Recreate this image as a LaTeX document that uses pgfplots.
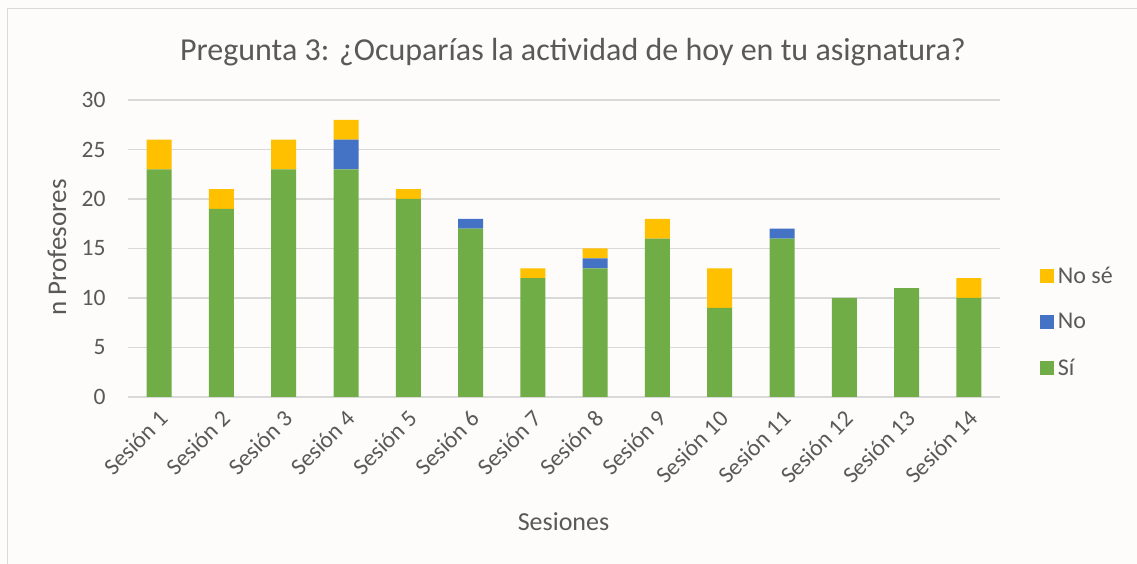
\documentclass[border=0pt]{standalone}
\usepackage{fontspec}
\setmainfont{Carlito}
\usepackage{pgfplots}
\pgfplotsset{compat=1.18}
\definecolor{cSi}{HTML}{70AD47}
\definecolor{cNo}{HTML}{4472C4}
\definecolor{cNS}{HTML}{FFC000}
\definecolor{txt}{HTML}{595959}
\definecolor{grd}{HTML}{D9D9D9}
\definecolor{bg}{HTML}{FDFCFB}
\begin{document}
\begin{tikzpicture}
\fill[bg] (0bp,0bp) rectangle (1137bp,564bp);
\path[use as bounding box] (0bp,0bp) rectangle (1137bp,564bp);
\draw[grd, line width=1.5bp] (7.5bp,0bp) -- (7.5bp,555.5bp) -- (1137bp,555.5bp);
\begin{axis}[
  at={(128bp,167bp)}, anchor=south west,
  scale only axis, width=872bp, height=297bp,
  ymin=0, ymax=30, xmin=-0.5, xmax=13.5,
  ybar stacked, bar width=25bp,
  ytick={0,5,...,30},
  xtick={0,...,13},
  xticklabels={Sesión 1,Sesión 2,Sesión 3,Sesión 4,Sesión 5,Sesión 6,Sesión 7,Sesión 8,Sesión 9,Sesión 10,Sesión 11,Sesión 12,Sesión 13,Sesión 14},
  axis lines*=left,
  y axis line style={draw=none},
  x axis line style={draw=grd, line width=1.2bp},
  major tick length=0pt,
  ymajorgrids, grid style={draw=grd, line width=1.2bp},
  /pgf/number format/assume math mode=true,
  tick label style={font=\fontsize{23.5bp}{27bp}\selectfont, text=txt},
  yticklabel style={xshift=-19bp},
  xticklabel style={rotate=45, anchor=north east, yshift=-4bp, xshift=-6bp},
  legend style={at={(1.046,0.2525)}, anchor=west, draw=none, fill=none,
    font=\fontsize{24bp}{28bp}\selectfont, text=txt, row sep=22bp,
    inner sep=0pt, nodes={inner sep=3.5bp}},
  legend cell align=left,
  reverse legend,
  legend image code/.code={\fill[#1] (0bp,-7bp) rectangle (14bp,7bp);},
  clip=false,
]
\addplot[fill=cSi, draw=none] coordinates {(0,23) (1,19) (2,23) (3,23) (4,20) (5,17) (6,12) (7,13) (8,16) (9,9) (10,16) (11,10) (12,11) (13,10)};
\addplot[fill=cNo, draw=none] coordinates {(0,0) (1,0) (2,0) (3,3) (4,0) (5,1) (6,0) (7,1) (8,0) (9,0) (10,1) (11,0) (12,0) (13,0)};
\addplot[fill=cNS, draw=none] coordinates {(0,3) (1,2) (2,3) (3,2) (4,1) (5,0) (6,1) (7,1) (8,2) (9,4) (10,0) (11,0) (12,0) (13,2)};
\legend{Sí,No,No sé}
\end{axis}
\node[text=txt, font=\fontsize{32bp}{38bp}\selectfont] at (573bp,512bp) {Pregunta 3: ¿Ocuparías la actividad de hoy en tu asignatura?};
\node[text=txt, rotate=90, font=\fontsize{27bp}{32bp}\selectfont] at (57bp,316.5bp) {n Profesores};
\node[text=txt, font=\fontsize{26bp}{31bp}\selectfont] at (563.5bp,42bp) {Sesiones};
\end{tikzpicture}
\end{document}
